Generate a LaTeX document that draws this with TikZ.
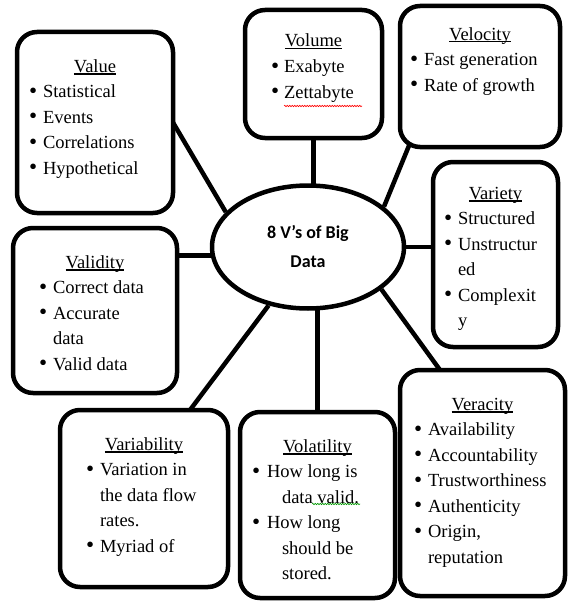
\documentclass[tikz,border=0pt]{standalone}
\usepackage{fontspec}
\setmainfont{Liberation Serif}
\newfontfamily\tms{Liberation Serif}
\newfontfamily\carl{Carlito}
\usetikzlibrary{shapes.geometric,calc,backgrounds,decorations.pathmorphing}
\newlength\ulw
\newlength\bx
\newlength\tx
\newlength\cx
\newcommand\ttl[1]{\settowidth\ulw{#1}\makebox[0pt][l]{\rule[-2.5pt]{\ulw}{1.1pt}}#1}
\newcommand\bl[1]{\noindent\hspace*{\bx}\makebox[\dimexpr\tx-\bx\relax][l]{\raisebox{-0.5pt}{\scalebox{1.25}{\textbullet}}}#1\par}
\newcommand\cl[1]{\noindent\hspace*{\cx}#1\par}
\newcommand\card[8]{\parbox[c][#2pt][t]{#1pt}{\setlength\bx{#3pt}\setlength\tx{#4pt}\setlength\cx{#5pt}\tms\fontsize{18.5}{25.5}\selectfont\centering\rule{0pt}{#6pt}\ttl{#7}\par\raggedright #8}}
\tikzset{
  vcard/.style={draw, line width=4.5pt, rounded corners=20pt, fill=white, inner sep=0pt, outer sep=0pt, anchor=north west},
  conn/.style={line width=4.5pt},
  hub/.style={draw, ellipse, line width=4.5pt, fill=white, inner sep=0pt, minimum width=192pt, minimum height=123pt, align=center, font=\carl\bfseries\fontsize{18}{29}\selectfont}
}
\begin{document}
\begin{tikzpicture}[x=1pt,y=-1pt]
\useasboundingbox (0,0) rectangle (568,602);
\node[hub] (c) at (308,247) {8 V’s of Big\\Data};
\node[vcard] (value) at (17,32) {\card{156}{181}{12}{26}{26}{40}{Value}{\bl{Statistical}\bl{Events}\bl{Correlations}\bl{Hypothetical}}};
\node[vcard] (volume) at (245,10) {\card{137}{128}{26}{39}{39}{37}{Volume}{\bl{Exabyte}\bl{Zettabyte}}};
\node[vcard] (velocity) at (400,6) {\card{160}{141}{10}{24}{24}{34}{Velocity}{\bl{Fast generation}\bl{Rate of growth}}};
\node[vcard] (variety) at (433,162) {\card{125}{185}{11}{25}{25}{37}{Variety}{\bl{Structured}\bl{Unstructur}\cl{ed}\bl{Complexit}\cl{y}}};
\node[vcard] (validity) at (13,228) {\card{164}{165}{26}{40}{40}{40}{Validity}{\bl{Correct data}\bl{Accurate}\cl{data}\bl{Valid data}}};
\node[vcard] (variability) at (60,410) {\card{168}{177}{26}{40}{40}{40}{Variability}{\bl{Variation in}\cl{the data flow}\cl{rates.}\bl{Myriad of}}};
\node[vcard] (volatility) at (240,412) {\card{155}{186}{12}{27}{42}{40}{Volatility}{\bl{How long is}\cl{data valid.}\bl{How long}\cl{should be}\cl{stored.}}};
\node[vcard] (veracity) at (400,370) {\card{165}{226}{14}{28}{28}{40}{Veracity}{\bl{Availability}\bl{Accountability}\bl{Trustworthiness}\bl{Authenticity}\bl{Origin,}\cl{reputation}}};
\coordinate (velin) at ($(velocity.south west)+(15,-16)$);
\coordinate (verin) at ($(veracity.north west)+(48,11)$);
\coordinate (varin) at ($(variability.north east)+(-44,8)$);
\begin{pgfonlayer}{background}
\draw[conn] (value.east) -- (c.157);
\draw[conn] (volume.south) -- (volume.south |- c.center);
\draw[conn] (c.28) -- (velin);
\draw[conn] (c.east) -- (c.east -| variety.west);
\draw[conn] (c.-30) -- (verin);
\draw[conn] (volatility.north) -- (volatility.north |- c.center);
\draw[conn] (c.236) -- (varin);
\draw[conn] (c.185) -- (c.185 -| validity.east);
\end{pgfonlayer}
\draw[red, line width=0.6pt, decorate, decoration={snake, amplitude=0.7pt, segment length=2.5pt}] (284,106) -- (362,106);
\draw[green!60!black, line width=0.6pt, decorate, decoration={snake, amplitude=0.7pt, segment length=2.5pt}] (312,504) -- (360,504);
\end{tikzpicture}
\end{document}
